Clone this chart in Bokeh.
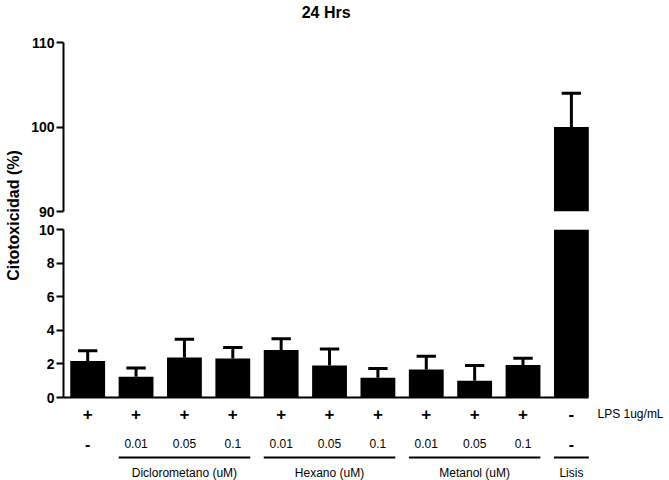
import math
from bokeh.plotting import figure
from bokeh.layouts import row, column
from bokeh.models import ColumnDataSource, Range1d, FixedTicker, CDSView, BooleanFilter
from bokeh.core.properties import value
from bokeh.embed import file_html
from bokeh.resources import INLINE

# ---------------- data ----------------
title_text = "24 Hrs"
y_label = "Citotoxicidad (%)"
positions = [1, 2, 3, 4, 5, 6, 7, 8, 9, 10, 11]
means = [2.18, 1.23, 2.38, 2.32, 2.83, 1.90, 1.17, 1.66, 0.99, 1.94, 100.0]
errors = [0.60, 0.53, 1.08, 0.66, 0.66, 0.99, 0.55, 0.80, 0.91, 0.40, 4.0]
lps_row = ["+", "+", "+", "+", "+", "+", "+", "+", "+", "+", "-"]
conc_row = ["-", "0.01", "0.05", "0.1", "0.01", "0.05", "0.1", "0.01", "0.05", "0.1", "-"]
lps_label = "LPS 1ug/mL"
groups = ["Diclorometano (uM)", "Hexano (uM)", "Metanol (uM)", "Lisis"]
group_first = [2, 5, 8, 11]
group_last = [4, 7, 10, 11]
top_ticks = [90, 100, 110]
bottom_ticks = [0, 2, 4, 6, 8, 10]
top_segment = (90, 110)
bottom_segment = (0, 10)

# ---------------- style / layout ----------------
FONT = "Liberation Sans"
BAR_W = 0.72
CAP = 0.2
HALF_LINE = 0.36
LAB_W = 28
MAIN_W = 641
LEFT = 34
X_END = 0.5 + (MAIN_W - LEFT) / 48.45
x_range = Range1d(0.5, X_END)
AXIS_END = positions[-1] + BAR_W / 2

err_top = [m + e for m, e in zip(means, errors)]
src = ColumnDataSource(dict(
    x=positions, top=means, err_top=err_top,
    cap_l=[x - CAP for x in positions], cap_r=[x + CAP for x in positions],
))


def base_fig(h, top, bottom, y_rng, xloc=None, yloc=None):
    p = figure(width=MAIN_W, height=h, x_range=x_range, y_range=y_rng,
               output_backend="svg", toolbar_location=None,
               x_axis_location=xloc, y_axis_location=yloc,
               min_border_left=LEFT, min_border_right=0,
               min_border_top=top, min_border_bottom=bottom)
    p.outline_line_color = None
    p.background_fill_color = "white"
    p.border_fill_color = "white"
    p.grid.visible = False
    return p


def style_y(p, ticks, bounds):
    ax = p.yaxis[0]
    ax.ticker = FixedTicker(ticks=ticks)
    ax.bounds = bounds
    ax.axis_line_width = 2
    ax.major_tick_line_width = 2
    ax.major_tick_out = 7
    ax.major_tick_in = 0
    ax.minor_tick_out = 0
    ax.minor_tick_in = 0
    ax.major_label_standoff = 2
    ax.major_label_text_font = FONT
    ax.major_label_text_font_style = "bold"
    ax.major_label_text_font_size = "14px"
    ax.major_label_text_color = "black"


def draw_bars(p, lo):
    view = CDSView(filter=BooleanFilter([t > lo for t in err_top]))
    p.vbar(x="x", width=BAR_W, bottom=0, top="top", source=src, view=view,
           fill_color="black", line_color=None)
    p.segment(x0="x", y0="top", x1="x", y1="err_top", source=src, view=view,
              line_color="black", line_width=3)
    p.segment(x0="cap_l", y0="err_top", x1="cap_r", y1="err_top", source=src,
              view=view, line_color="black", line_width=3)


# title strip (y in page pixels, flipped range)
p0 = base_fig(24, 0, 0, Range1d(24, 0))
p0.text(x=[(x_range.start + AXIS_END) / 2], y=[12], text=[title_text],
        text_font=value(FONT), text_font_style="bold", text_font_size="16px",
        text_align="center", text_baseline="middle", text_color="black")

# top segment
p1 = base_fig(196, 18, 9, Range1d(*top_segment), xloc=None, yloc="left")
style_y(p1, top_ticks, top_segment)
draw_bars(p1, top_segment[0])

# bottom segment
p2 = base_fig(184, 9, 7, Range1d(*bottom_segment), xloc="below", yloc="left")
style_y(p2, bottom_ticks, bottom_segment)
xa = p2.xaxis[0]
xa.ticker = FixedTicker(ticks=[])
xa.bounds = (x_range.start, AXIS_END)
xa.axis_line_width = 2
xa.major_tick_out = 0
xa.major_tick_in = 0
xa.minor_tick_out = 0
xa.minor_tick_in = 0
xa.major_label_standoff = 0
xa.major_label_text_font_size = "0px"
draw_bars(p2, bottom_segment[0])

# label rows under the axis (y in page pixels, flipped range)
p3 = base_fig(76, 0, 0, Range1d(480, 404))
ROW_PLUS, ROW_CONC, ROW_LINE, ROW_GROUP = 413, 443, 457, 472
p3.text(x=positions, y=ROW_PLUS, text=lps_row, text_font=value(FONT),
        text_font_style="bold", text_font_size="17px", text_align="center",
        text_baseline="middle", text_color="black")
p3.text(x=[11.54], y=ROW_PLUS, text=[lps_label], text_font=value(FONT),
        text_font_size="12px", text_align="left", text_baseline="middle",
        text_color="black")
conc_style = ["bold" if c == "-" else "normal" for c in conc_row]
conc_size = ["16px" if c == "-" else "12px" for c in conc_row]
p3.text(x=positions, y=ROW_CONC, text=conc_row, text_font=value(FONT),
        text_font_style=conc_style, text_font_size=conc_size, text_align="center",
        text_baseline="middle", text_color="black")
p3.segment(x0=[f - HALF_LINE for f in group_first], y0=ROW_LINE,
           x1=[l + HALF_LINE for l in group_last], y1=ROW_LINE,
           line_color="black", line_width=2)
p3.text(x=[(f + l) / 2 for f, l in zip(group_first, group_last)], y=ROW_GROUP,
        text=groups, text_font=value(FONT), text_font_size="12px",
        text_align="center", text_baseline="middle", text_color="black")

# y-axis label panel (coordinates in page pixels)
pl = figure(width=LAB_W, height=480, x_range=Range1d(0, LAB_W), y_range=Range1d(480, 0),
            output_backend="svg", toolbar_location=None,
            x_axis_location=None, y_axis_location=None,
            min_border_left=0, min_border_right=0, min_border_top=0, min_border_bottom=0)
pl.outline_line_color = None
pl.grid.visible = False
pl.text(x=[13], y=[215], text=[y_label], angle=math.pi / 2, text_font=value(FONT),
        text_font_style="bold", text_font_size="16px", text_align="center",
        text_baseline="middle", text_color="black")

layout = row(pl, column(p0, p1, p2, p3))
open("out.html", "w").write(file_html(layout, INLINE))
